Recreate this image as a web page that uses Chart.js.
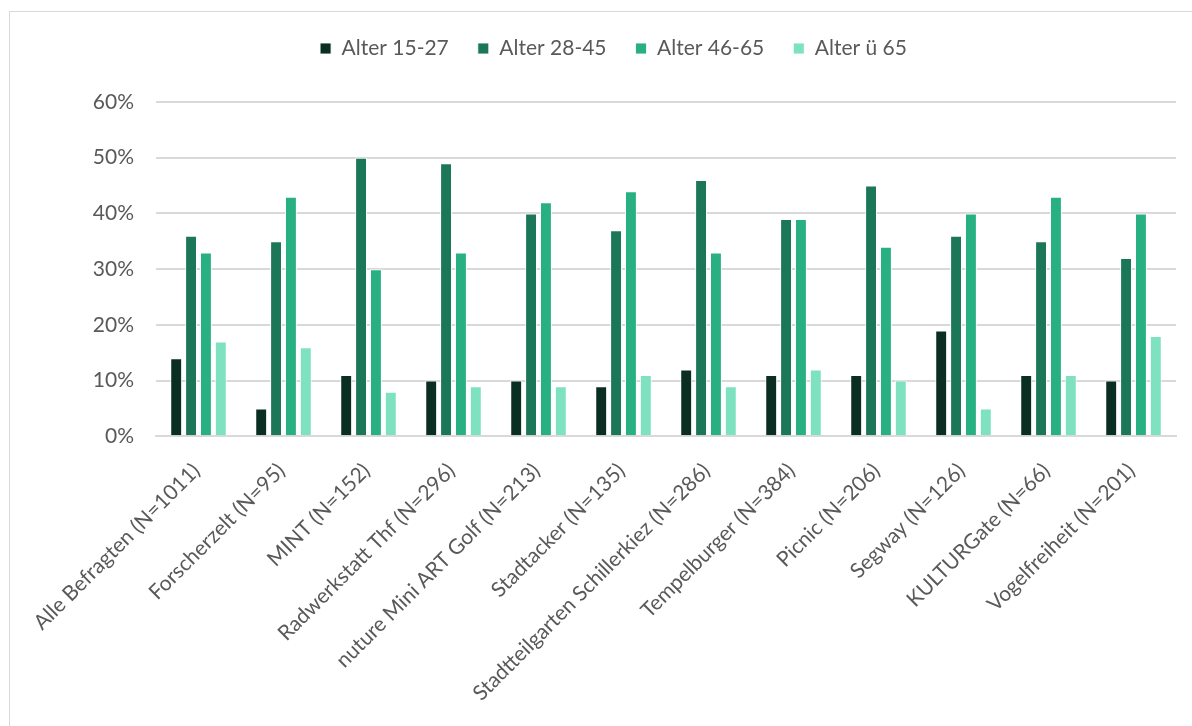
<!DOCTYPE html>
<html>
<head>
<meta charset="utf-8">
<script src="https://cdn.jsdelivr.net/npm/chart.js@4/dist/chart.umd.min.js"></script>
<style>
  html, body { margin: 0; padding: 0; background: #fff; overflow: hidden; }
  body { width: 1192px; height: 726px; position: relative; }
  #frame {
    position: absolute; left: 9px; top: 11px;
    width: 1207px; height: 740px;
    border: 1px solid #d9d9d9; box-sizing: border-box;
  }
  #frame canvas { display: block; }
</style>
</head>
<body>
<div id="frame"><canvas id="chart-alter"></canvas></div>
<script>
const categories = [
  'Alle Befragten (N=1011)',
  'Forscherzelt (N=95)',
  'MINT (N=152)',
  'Radwerkstatt Thf (N=296)',
  'nuture Mini ART Golf (N=213)',
  'Stadtacker (N=135)',
  'Stadtteilgarten Schillerkiez (N=286)',
  'Tempelburger (N=384)',
  'Picnic (N=206)',
  'Segway (N=126)',
  'KULTURGate (N=66)',
  'Vogelfreiheit (N=201)'
];

const alter15_27 = [14, 5, 11, 10, 10, 9, 12, 11, 11, 19, 11, 10];
const alter28_45 = [36, 35, 50, 49, 40, 37, 46, 39, 45, 36, 35, 32];
const alter46_65 = [33, 43, 30, 33, 42, 44, 33, 39, 34, 40, 43, 40];
const alterUe65 = [17, 16, 8, 9, 9, 11, 9, 12, 10, 5, 11, 18];

const yTicks = [0, 10, 20, 30, 40, 50, 60];

const series = [
  { label: 'Alter 15-27', data: alter15_27, color: '#0b2e22' },
  { label: 'Alter 28-45', data: alter28_45, color: '#1b7758' },
  { label: 'Alter 46-65', data: alter46_65, color: '#28b083' },
  { label: 'Alter ü 65', data: alterUe65, color: '#7ee2c0' }
];

const FONT = 'Lato, "Open Sans", sans-serif';
const SIZE = 21;
const TEXT = '#595959';

// more room under the legend, legend nudged up a little
const legendTweaks = {
  id: 'legendTweaks',
  beforeInit(chart) {
    const fit = chart.legend.fit;
    chart.legend.fit = function () {
      fit.call(this);
      this.height += 30;
    };
  },
  afterLayout(chart) {
    chart.legend.top -= 3;
    chart.legend.bottom -= 3;
  }
};

const canvas = document.getElementById('chart-alter');
canvas.width = 1205;
canvas.height = 738;

new Chart(canvas.getContext('2d'), {
  type: 'bar',
  data: {
    labels: categories,
    datasets: series.map(s => ({
      label: s.label,
      data: s.data,
      backgroundColor: s.color,
      borderColor: 'rgba(255,255,255,0.85)',
      borderWidth: 1,
      categoryPercentage: 0.7,
      barPercentage: 0.8
    }))
  },
  options: {
    responsive: false,
    animation: false,
    layout: { padding: { top: 0, left: 41, right: 39, bottom: 30 } },
    plugins: {
      legend: {
        position: 'top',
        labels: {
          boxWidth: 11,
          boxHeight: 11,
          padding: 29,
          color: TEXT,
          font: { family: FONT, size: SIZE }
        }
      },
      tooltip: { enabled: false }
    },
    scales: {
      x: {
        grid: { display: false },
        border: { color: '#d9d9d9', width: 2 },
        ticks: {
          color: TEXT,
          font: { family: FONT, size: SIZE },
          minRotation: 45,
          maxRotation: 45,
          autoSkip: false,
          padding: 14,
          labelOffset: -2
        }
      },
      y: {
        min: 0,
        max: 60,
        afterBuildTicks: axis => { axis.ticks = yTicks.map(v => ({ value: v })); },
        afterFit: axis => { axis.width = 105; },
        border: { display: false },
        grid: { color: '#d9d9d9', lineWidth: 2, drawTicks: false },
        ticks: {
          color: TEXT,
          font: { family: FONT, size: SIZE },
          padding: 22,
          callback: v => v + '%'
        }
      }
    }
  },
  plugins: [legendTweaks]
});
</script>
</body>
</html>
